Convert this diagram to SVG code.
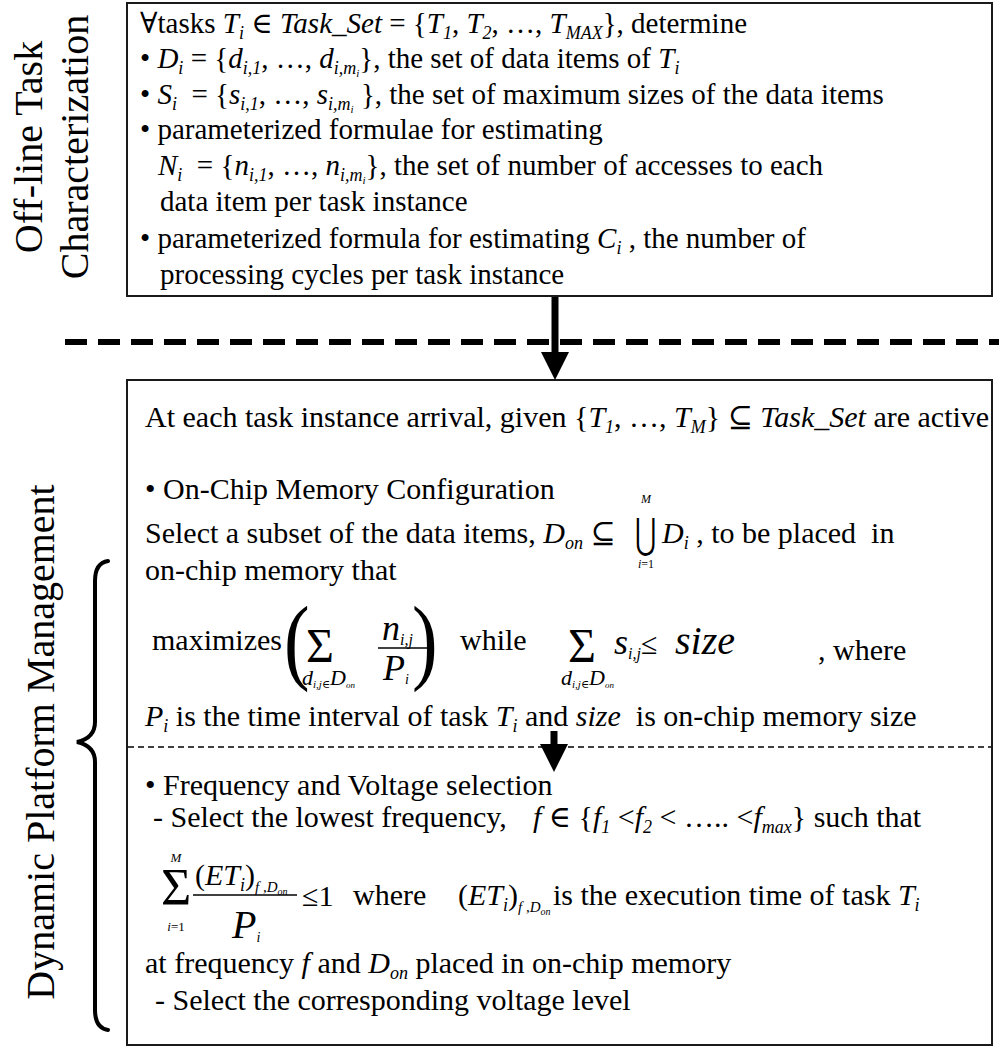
<svg xmlns="http://www.w3.org/2000/svg" width="999" height="1048" viewBox="0 0 999 1048">
<style>
text { font-family: "Liberation Serif", "Times New Roman", "DejaVu Serif", serif; fill: #000; }
.b { font-size: 29px; }
.c { font-size: 30px; }
.i { font-style: italic; }
.sb { font-size: 18px; font-style: italic; }
.ss { font-size: 11px; font-style: italic; }
.lbl { font-size: 40px; }
.box { fill: #fff; stroke: #1a1a1a; stroke-width: 2; }
.conn { stroke: #000; stroke-width: 7; fill: none; }
.sep { stroke: #000; stroke-width: 6; stroke-dasharray: 22 11; fill: none; }
.sep2 { stroke: #000; stroke-width: 1.5; stroke-dasharray: 6 4; fill: none; }
.brace { stroke: #000; stroke-width: 4; fill: none; stroke-linecap: round; }
.fr { stroke: #000; stroke-width: 1.5; }
</style>
<defs>
<marker id="ah" markerUnits="userSpaceOnUse" markerWidth="30" markerHeight="30" refX="0" refY="14" orient="auto">
<path d="M0,0 L28,14 L0,28 z" fill="#000"/>
</marker>
</defs>

<g id="side-labels">
<text class="lbl" text-anchor="middle" transform="translate(42,147) rotate(-90)">Off-line Task</text>
<text class="lbl" text-anchor="middle" transform="translate(88,147) rotate(-90)">Characterization</text>
<text class="lbl" text-anchor="middle" transform="translate(54,742) rotate(-90)">Dynamic Platform Management</text>
<path class="brace" d="M108,561 Q95,563 95,581 L95,722 Q95,738 77,742 Q95,746 95,762 L95,1010 Q95,1028 108,1030"/>
</g>

<g id="separator">
<line class="sep" x1="65" y1="342" x2="999" y2="342"/>
</g>

<g id="node-offline">
<rect class="box" x="127" y="3" width="865" height="293"/>
<text class="b" x="140" y="33">∀tasks <tspan class="i">T</tspan><tspan class="sb" dy="6">i</tspan><tspan dy="-6"> ∈ </tspan><tspan class="i">Task_Set</tspan><tspan> = {</tspan><tspan class="i">T</tspan><tspan class="sb" dy="6">1</tspan><tspan dy="-6">, </tspan><tspan class="i">T</tspan><tspan class="sb" dy="6">2</tspan><tspan dy="-6">, …, </tspan><tspan class="i">T</tspan><tspan class="sb" dy="6">MAX</tspan><tspan dy="-6">}, determine</tspan></text>
<text class="b" x="140" y="68">• <tspan class="i">D</tspan><tspan class="sb" dy="6">i</tspan><tspan dy="-6"> = {</tspan><tspan class="i">d</tspan><tspan class="sb" dy="6">i,1</tspan><tspan dy="-6">, …, </tspan><tspan class="i">d</tspan><tspan class="sb" dy="6">i,m</tspan><tspan class="ss" dy="3">i</tspan><tspan dy="-9">}, the set of data items of </tspan><tspan class="i">T</tspan><tspan class="sb" dy="6">i</tspan></text>
<text class="b" x="140" y="104">• <tspan class="i">S</tspan><tspan class="sb" dy="6">i</tspan><tspan dy="-6">&#160; = {</tspan><tspan class="i">s</tspan><tspan class="sb" dy="6">i,1</tspan><tspan dy="-6">, …, </tspan><tspan class="i">s</tspan><tspan class="sb" dy="6">i,m</tspan><tspan class="ss" dy="3">i</tspan><tspan dy="-9"> }, the set of maximum sizes of the data items</tspan></text>
<text class="b" x="140" y="139">• parameterized formulae for estimating</text>
<text class="b" x="158" y="175"><tspan class="i">N</tspan><tspan class="sb" dy="6">i</tspan><tspan dy="-6">&#160; = {</tspan><tspan class="i">n</tspan><tspan class="sb" dy="6">i,1</tspan><tspan dy="-6">, …, </tspan><tspan class="i">n</tspan><tspan class="sb" dy="6">i,m</tspan><tspan class="ss" dy="3">i</tspan><tspan dy="-9">}, the set of number of accesses to each</tspan></text>
<text class="b" x="160" y="211">data item per task instance</text>
<text class="b" x="140" y="248">• parameterized formula for estimating <tspan class="i">C</tspan><tspan class="sb" dy="6">i</tspan><tspan dy="-6"> , the number of</tspan></text>
<text class="b" x="160" y="284">processing cycles per task instance</text>
</g>

<g id="node-dynamic">
<rect class="box" x="127" y="380" width="865" height="665"/>
<text class="c" x="145" y="427">At each task instance arrival, given {<tspan class="i">T</tspan><tspan class="sb" dy="6">1</tspan><tspan dy="-6">, …, </tspan><tspan class="i">T</tspan><tspan class="sb" dy="6">M</tspan><tspan dy="-6">} ⊆ </tspan><tspan class="i">Task_Set</tspan><tspan> are active</tspan></text>
<text class="c" x="145" y="499">• On-Chip Memory Configuration</text>
<text class="c" x="145" y="543">Select a subset of the data items, <tspan class="i">D</tspan><tspan class="sb" dy="6">on</tspan><tspan dy="-6"> ⊆</tspan></text>
<text x="646" y="503" font-size="12" font-style="italic" text-anchor="middle">M</text>
<text font-size="32" text-anchor="middle" font-family="DejaVu Sans, sans-serif" transform="translate(646,548) scale(0.8,1.3)">⋃</text>
<text x="646" y="568" font-size="12" text-anchor="middle"><tspan font-style="italic">i</tspan>=1</text>
<text class="c" x="662" y="543"><tspan class="i">D</tspan><tspan class="sb" dy="6">i</tspan><tspan dy="-6"> , to be placed&#160; in</tspan></text>
<text class="c" x="145" y="580">on-chip memory that</text>

<text class="c" x="152" y="650">maximizes</text>
<text font-size="96" transform="translate(284,672) scale(0.8,1)">(</text>
<text font-size="48" x="306" y="662">Σ</text>
<text font-size="22" x="302" y="685"><tspan font-style="italic">d</tspan><tspan font-size="11" font-style="italic" dy="3">i,j</tspan><tspan font-size="11">∈</tspan><tspan font-size="22" font-style="italic" dy="-3">D</tspan><tspan font-size="9" font-style="italic" dy="3">on</tspan></text>
<text font-size="36" x="382" y="640"><tspan font-style="italic">n</tspan><tspan font-size="16" font-style="italic" dy="5">i,j</tspan></text>
<line class="fr" x1="378" y1="648" x2="428" y2="648"/>
<text font-size="36" x="383" y="680"><tspan font-style="italic">P</tspan><tspan font-size="14" font-style="italic" dy="4">i</tspan></text>
<text font-size="96" transform="translate(412,672) scale(0.8,1)">)</text>
<text class="c" x="460" y="650">while</text>
<text font-size="48" x="568" y="662">Σ</text>
<text font-size="22" x="561" y="685"><tspan font-style="italic">d</tspan><tspan font-size="11" font-style="italic" dy="3">i,j</tspan><tspan font-size="11">∈</tspan><tspan font-size="22" font-style="italic" dy="-3">D</tspan><tspan font-size="9" font-style="italic" dy="3">on</tspan></text>
<text font-size="36" x="614" y="654"><tspan font-style="italic">s</tspan><tspan font-size="16" font-style="italic" dy="5">i,j</tspan><tspan font-size="30" dy="-5">≤</tspan><tspan x="675" font-size="40" font-style="italic">size</tspan></text>
<text class="c" x="818" y="660">, where</text>
<text class="c" x="145" y="726"><tspan class="i">P</tspan><tspan class="sb" dy="6">i</tspan><tspan dy="-6"> is the time interval of task </tspan><tspan class="i">T</tspan><tspan class="sb" dy="6">i</tspan><tspan dy="-6"> and </tspan><tspan class="i">size</tspan><tspan>&#160; is on-chip memory size</tspan></text>

<text class="c" x="145" y="795">• Frequency and Voltage selection</text>
<text class="c" x="153" y="827">- Select the lowest frequency,<tspan x="533" class="i">f</tspan><tspan> ∈ {</tspan><tspan class="i">f</tspan><tspan class="sb" dy="6">1</tspan><tspan dy="-6"> &lt;</tspan><tspan class="i">f</tspan><tspan class="sb" dy="6">2</tspan><tspan dy="-6"> &lt; ….. &lt;</tspan><tspan class="i">f</tspan><tspan class="sb" dy="6">max</tspan><tspan dy="-6">} such that</tspan></text>
<text x="176" y="862" font-size="13" font-style="italic" text-anchor="middle">M</text>
<text font-size="52" x="161" y="905">Σ</text>
<text x="176" y="931" font-size="13" text-anchor="middle"><tspan font-style="italic">i</tspan>=1</text>
<text class="c" x="195" y="885">(<tspan class="i">ET</tspan><tspan class="sb" dy="6">i</tspan><tspan dy="-6">)</tspan><tspan font-size="15" font-style="italic" dy="7">f ,D</tspan><tspan font-size="10" font-style="italic" dy="3">on</tspan></text>
<line class="fr" x1="193" y1="895" x2="297" y2="895"/>
<text font-size="40" x="232" y="938"><tspan font-style="italic">P</tspan><tspan font-size="14" font-style="italic" dy="4">i</tspan></text>
<text class="c" x="302" y="906">≤1</text>
<text class="c" x="353" y="905">where<tspan x="458">(</tspan><tspan class="i">ET</tspan><tspan class="sb" dy="6">i</tspan><tspan dy="-6">)</tspan><tspan font-size="15" font-style="italic" dy="7">f ,D</tspan><tspan font-size="10" font-style="italic" dy="3">on</tspan><tspan x="553" dy="-10">is the execution time of task </tspan><tspan class="i">T</tspan><tspan class="sb" dy="6">i</tspan></text>
<text class="c" x="145" y="973">at frequency <tspan class="i">f</tspan><tspan> and </tspan><tspan class="i">D</tspan><tspan class="sb" dy="6">on</tspan><tspan dy="-6"> placed in on-chip memory</tspan></text>
<text class="c" x="155" y="1010">- Select the corresponding voltage level</text>
<line class="sep2" x1="128" y1="747" x2="991" y2="747"/>
</g>

<g id="connectors">
<line class="conn" x1="555" y1="297" x2="555" y2="352" marker-end="url(#ah)"/>
<line class="conn" x1="554" y1="731" x2="554" y2="744" marker-end="url(#ah)"/>
</g>
</svg>
